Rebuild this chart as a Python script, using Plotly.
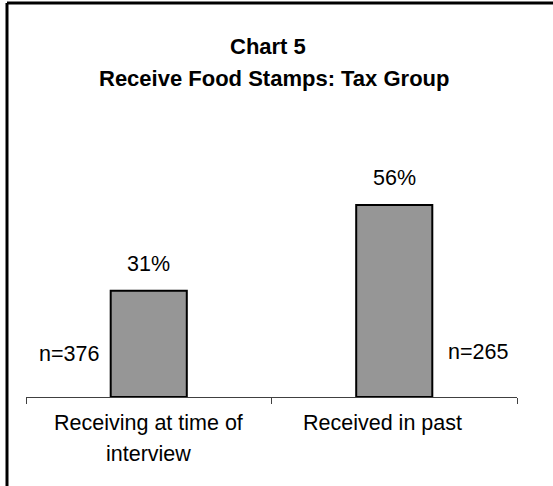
import plotly.graph_objects as go

categories = ["Receiving at time of<br>interview", "Received in past"]
values = [31, 56]
value_labels = ["31%", "56%"]
n_labels = ["n=376", "n=265"]
title_lines = ["Chart 5", "Receive Food Stamps: Tax Group"]

FONT = "Liberation Sans, Arial, sans-serif"
BODY = 21.5
TITLE = 22

fig = go.Figure()
fig.add_trace(go.Bar(
    x=[0, 1], y=values,
    marker=dict(color="#969696", line=dict(color="#000000", width=2)),
    width=0.31, hoverinfo="skip",
))

# value labels above bars
for i, (v, t) in enumerate(zip(values, value_labels)):
    fig.add_annotation(x=i, y=v, text=t, showarrow=False, xref="x", yref="y",
                       yanchor="bottom", yshift=13, font=dict(size=BODY, color="#000", family=FONT))

# n labels beside bars
fig.add_annotation(x=0, y=12.5, text=n_labels[0], showarrow=False, xref="x", yref="y",
                   xanchor="right", xshift=-48, font=dict(size=BODY, color="#000", family=FONT))
fig.add_annotation(x=1, y=13, text=n_labels[1], showarrow=False, xref="x", yref="y",
                   xanchor="left", xshift=52, font=dict(size=BODY, color="#000", family=FONT))

# category labels (one annotation per wrapped line)
shifts = [0, -12]
for i, (c, s) in enumerate(zip(categories, shifts)):
    for j, line in enumerate(c.split("<br>")):
        fig.add_annotation(x=i, y=0, text=line, showarrow=False, xref="x", yref="y",
                           yanchor="middle", yshift=-26 - 31 * j, xshift=s, align="center",
                           font=dict(size=BODY, color="#000", family=FONT))

# title
fig.add_annotation(x=0.5, y=(397 - 46) / 240, xref="paper", yref="paper",
                   text="<b>" + title_lines[0] + "</b>", showarrow=False, xshift=-4,
                   font=dict(size=TITLE, color="#000", family=FONT), yanchor="middle")
fig.add_annotation(x=0.5, y=(397 - 78) / 240, xref="paper", yref="paper",
                   text="<b>" + title_lines[1] + "</b>", showarrow=False, xshift=2,
                   font=dict(size=TITLE, color="#000", family=FONT), yanchor="middle")

# border (top and left only visible)
fig.add_shape(type="line", xref="paper", yref="paper", x0=-0.0387, x1=1.1, y0=(397 - 3) / 240, y1=(397 - 3) / 240,
              line=dict(color="#000", width=3), layer="above")
fig.add_shape(type="line", xref="paper", yref="paper", x0=-0.0387, x1=-0.0387, y0=(397 - 3) / 240, y1=-0.5,
              line=dict(color="#000", width=3), layer="above")

fig.update_layout(
    width=553, height=486,
    margin=dict(l=26, r=36, t=157, b=89),
    paper_bgcolor="white", plot_bgcolor="white",
    showlegend=False,
    xaxis=dict(range=[-0.5, 1.5], tickmode="array", tickvals=[-0.5, 0.5, 1.5], ticktext=["", "", ""],
               ticks="outside", ticklen=6, tickcolor="#404040", tickwidth=1,
               showline=True, linecolor="#404040", linewidth=1, showgrid=False, zeroline=False,
               fixedrange=True),
    yaxis=dict(range=[0, 70], visible=False, fixedrange=True),
    font=dict(family=FONT),
)

fig.write_html("out.html", config={"displayModeBar": False})
